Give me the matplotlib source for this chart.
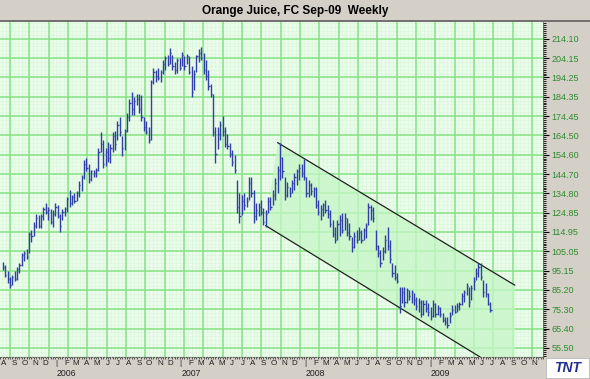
"""
Orange Juice FC Sep-09 weekly bar chart with a falling channel.
"""

import numpy as np
import pandas as pd
import matplotlib
matplotlib.use('Agg')
import matplotlib.pyplot as plt
import matplotlib.dates as mdates
from matplotlib.collections import LineCollection
from matplotlib.patches import Polygon, Rectangle
from matplotlib.ticker import FixedLocator

# Weekly bars (Fridays), first bar end of July 2005
first_week = '2005-07-29'

highs = [
    99.5, 98, 95, 92, 93, 95, 97, 99, 104, 105,
    106, 115, 116, 120, 124, 123.5, 124, 128, 130, 128,
    127, 126, 130, 129, 124, 127, 128, 133, 136.5, 134,
    135, 136, 141, 144, 152, 153, 150, 147, 147, 148,
    158, 166, 162, 158, 161, 160, 166, 167, 172, 174,
    164, 168, 176, 183, 187, 184, 186, 186, 185, 174,
    172, 169, 193, 199, 198, 199, 198, 203, 205, 206,
    209.5, 206, 202, 204, 204, 207.5, 205, 206.5, 205, 200,
    198, 206, 209, 210, 207, 203, 198, 191, 186, 169,
    169, 172, 174.5, 169, 165, 160.5, 157, 154.5, 141.5, 135,
    134, 135, 133, 143, 143, 136.5, 130, 130, 131.5, 127.5,
    126, 133, 133, 136.5, 142.5, 149, 160.5, 153.5, 143, 140.5,
    138, 141.5, 145, 147.5, 150, 150, 152.3, 143, 141.5, 140,
    138, 138, 131.5, 129, 130, 131.5, 129, 126, 121, 117.5,
    121, 123.5, 124.5, 124.5, 122, 119.5, 112.5, 115, 116, 117.5,
    116, 117, 119.5, 130, 129, 128, 116, 108.3, 105.7, 107,
    113.5, 117.5, 110.8, 99, 98, 93.8, 86.7, 86.7, 86.7, 86,
    85.2, 85.2, 83.6, 81.7, 81, 80, 80, 80, 78.5, 76.5,
    80, 78.5, 77.4, 76.5, 73.3, 71.3, 71.3, 74, 77.4, 77.4,
    78.5, 79, 83.6, 85.2, 88.7, 86.7, 87.7, 92, 96.4, 99,
    99, 90.3, 88.7, 83.6, 79,
]

lows = [
    95.5, 92, 89, 86, 87.5, 90, 90.5, 94, 97.5, 100,
    101, 104, 110, 113, 117, 117, 117, 121, 124, 121,
    119, 117.5, 123, 122, 115, 121, 123, 125, 128, 129,
    130, 131, 133, 136, 142, 146, 140, 141, 143, 143,
    146, 156, 148, 149, 151, 150.5, 156, 157, 162, 164,
    154, 157, 166, 172, 175, 175, 180, 176, 172, 167,
    165, 160.5, 162, 191, 192, 193, 192, 196, 198, 200,
    201, 198, 196, 196.5, 198, 200, 198, 201, 196, 184,
    188, 197, 202, 203, 196, 193, 188, 184, 164, 150.5,
    157.5, 162, 164, 158.5, 157.5, 153.5, 149, 145, 124.5, 119.5,
    123.5, 126, 128, 131.5, 133, 119.5, 121, 123, 123.5, 118.5,
    117.5, 124.5, 126, 129, 131.5, 135, 141.5, 142.5, 131.5, 133,
    133, 135, 136.5, 139, 141.5, 143, 141.5, 133, 133, 134,
    133, 127.5, 123.5, 121, 123, 124.5, 122, 117.5, 112.5, 109.3,
    110.8, 113, 114.5, 116, 113, 110.8, 104.7, 106.7, 109.3, 110.8,
    109.3, 110.8, 111.8, 118.5, 121, 120, 105.7, 102, 97, 100.6,
    104, 105.7, 99, 91.9, 90.3, 88.7, 73.3, 78.5, 76.5, 78.5,
    80, 78.5, 77.4, 74.9, 74, 71.3, 72.5, 74, 71.8, 69.8,
    71.3, 71.3, 72.3, 71.3, 68.7, 67, 65.6, 68.2, 72.3, 73.3,
    74, 74.9, 77.4, 79, 82.6, 76.5, 80, 85.2, 90.3, 91.9,
    90.3, 81.7, 81.7, 77.4, 74,
]

closes = [
    97, 93, 91, 88, 92, 91, 96, 98, 103, 104,
    102, 114, 113, 118, 122, 118, 123, 127, 125, 126,
    120, 124, 128, 123, 118, 125, 127, 132, 130, 133,
    131, 135, 139, 143, 150, 148, 142, 146, 145, 147,
    156, 160, 150, 156, 153, 158, 164, 160, 170, 166,
    158, 167, 174, 181, 178, 182, 183, 178, 174, 169,
    166, 162, 192, 197, 195, 194, 197, 201, 204, 201,
    207, 200, 198, 203, 199, 206, 200, 205, 197, 187,
    196, 205, 207, 204, 198, 195, 190, 186, 166, 155,
    165, 170, 167, 160, 159, 155, 151, 147, 128, 123,
    131, 129, 131, 140, 135, 123, 126, 128, 125, 120,
    124, 131, 128, 134, 140, 147, 153, 146, 134, 138,
    135, 140, 143, 146, 148, 145, 143, 135, 139, 136,
    137, 129, 125, 127, 129, 126, 124, 119, 114, 111,
    119, 121, 116, 122, 115, 113, 107, 113, 111, 115,
    111, 116, 118, 128, 126, 122, 108, 104, 99, 105,
    111, 108, 101, 94, 92, 90, 77, 84, 79, 85,
    82, 84, 80, 77, 79, 73, 78, 76, 74, 72,
    78, 73, 76, 73, 70, 69, 67, 72, 75, 74,
    77, 78, 82, 84, 87, 79, 86, 90, 94, 97,
    92, 84, 83, 78, 75,
]

# Price scale labels on the right
price_ticks = [214.10, 204.15, 194.25, 184.35, 174.45, 164.50, 154.60, 144.70,
               134.80, 124.85, 114.95, 105.05, 95.15, 85.20, 75.30, 65.40, 55.50]

# Down channel drawn on the chart
upper_dates = ['2007-10-12', '2009-09-05']
upper_prices = [160.8, 87.7]
lower_dates = ['2007-09-07', '2009-05-26']
lower_prices = [118.2, 50.9]

years = [2006, 2007, 2008, 2009]
month_letters = ['|', 'F', 'M', 'A', 'M', 'J', 'J', 'A', 'S', 'O', 'N', 'D']

title = 'Orange Juice, FC Sep-09  Weekly'

# ---------------------------------------------------------------
BG = '#d4d0c8'
PLOT_BG = '#eafcea'
MAJOR = '#84e284'
MINOR = '#dcf6dc'
FILL = '#c6f6c6'
BAR = '#3040a8'
LABEL_GREEN = '#2e8b2e'

dates = pd.date_range(first_week, periods=len(highs), freq='7D')
xd = mdates.date2num(dates)

fig = plt.figure(figsize=(5.9, 3.79), dpi=100, facecolor=BG)
ax = fig.add_axes([0, 22 / 379, 543 / 590, 335 / 379])
ax.set_facecolor(PLOT_BG)

x0 = mdates.date2num(pd.Timestamp('2005-07-21'))
x1 = mdates.date2num(pd.Timestamp('2009-11-27'))
ax.set_xlim(x0, x1)
ax.set_ylim(50.8, 222.7)

# square background grid (pixel based, like the source chart)
px_day = (x1 - x0) / 543.0
step = 19.33
for k in range(-1, 30):
    xv = x0 + (10 + k * step) * px_day
    for j in range(1, 5):
        ax.axvline(xv + j * step / 5 * px_day, color=MINOR, lw=0.5, zorder=0)
    ax.axvline(xv, color=MAJOR, lw=1.1, zorder=0.5)
tick_step = (price_ticks[0] - price_ticks[-1]) / (len(price_ticks) - 1)
for k in range(-2, len(price_ticks) + 2):
    yv = price_ticks[-1] + k * tick_step
    for j in range(1, 5):
        ax.axhline(yv + j * tick_step / 5, color=MINOR, lw=0.5, zorder=0)
    ax.axhline(yv, color=MAJOR, lw=1.1, zorder=0.5)

# channel shading and lines
ux = mdates.date2num(pd.to_datetime(upper_dates))
lx = mdates.date2num(pd.to_datetime(lower_dates))
poly = Polygon([(ux[0], upper_prices[0]), (ux[1], upper_prices[1]),
                (ux[1], 50.8), (lx[1], lower_prices[1]),
                (lx[0], lower_prices[0])],
               closed=True, facecolor=FILL, edgecolor='none', alpha=0.75, zorder=0.8)
ax.add_patch(poly)
ax.plot(ux, upper_prices, color='#202020', lw=0.9, zorder=2)
ax.plot(lx, lower_prices, color='#202020', lw=0.9, zorder=2)

# HLC bars
hl = [[(x, l), (x, h)] for x, h, l in zip(xd, highs, lows)]
cl = [[(x, c), (x + 3.5, c)] for x, c in zip(xd, closes)]
ax.add_collection(LineCollection(hl, colors=BAR, linewidths=1.0, zorder=3))
ax.add_collection(LineCollection(cl, colors=BAR, linewidths=1.0, zorder=3))

# right price axis
ax.yaxis.tick_right()
ax.yaxis.set_major_locator(FixedLocator(price_ticks))
ax.set_yticklabels([f'{p:.2f}' for p in price_ticks])
minor_y = np.arange(price_ticks[-1] - 6 * tick_step, 224, tick_step / 10)
ax.yaxis.set_minor_locator(FixedLocator(minor_y))
ax.tick_params(axis='y', which='major', length=4, width=0.8, pad=2,
               labelsize=6.5, colors='black')
ax.tick_params(axis='y', which='major', labelcolor=LABEL_GREEN)
ax.tick_params(axis='y', which='minor', length=2.5, width=0.6)

# month letters along the bottom
months = pd.date_range('2005-08-01', '2009-11-01', freq='MS')
ax.set_xticks(mdates.date2num(months))
ax.set_xticklabels([month_letters[m.month - 1] for m in months])
ax.tick_params(axis='x', which='major', length=0, pad=2.2, labelsize=5.8, labelcolor='#202020')
weeks = mdates.date2num(pd.date_range('2005-07-22', '2009-11-27', freq='7D'))
ax.xaxis.set_minor_locator(FixedLocator(weeks))
ax.tick_params(axis='x', which='minor', length=1.3, width=0.6, color='#404040')
for lab in ax.get_xticklabels() + ax.get_yticklabels():
    lab.set_family('Liberation Sans')

for yr in years:
    xv = mdates.date2num(pd.Timestamp(f'{yr}-01-01'))
    ax.text(xv + 2, -0.037, str(yr), transform=ax.get_xaxis_transform(),
            ha='left', va='top', fontsize=6.3, color='#202020', family='Liberation Sans')

for side in ['top', 'left']:
    ax.spines[side].set_visible(False)
ax.spines['bottom'].set_color('#606060')
ax.spines['bottom'].set_linestyle(':')
ax.spines['right'].set_color('#606060')
ax.spines['right'].set_linewidth(0.6)

# title bar
fig.patches.append(Rectangle((0, 1 - 21 / 379), 1, 21 / 379, transform=fig.transFigure,
                             facecolor=BG, edgecolor='none'))
fig.lines.append(plt.Line2D([0, 1], [1 - 21 / 379, 1 - 21 / 379], transform=fig.transFigure,
                            color='#606060', lw=1.2))
fig.text(0.5, 1 - 11 / 379, title, ha='center', va='center', fontsize=8.5,
         fontweight='bold', family=['Liberation Sans Narrow', 'Liberation Sans'])

# logo box bottom right
fig.patches.append(Rectangle((546 / 590, 1 / 379), 43 / 590, 20 / 379, transform=fig.transFigure,
                             facecolor='white', edgecolor='#b0b0b0', lw=0.5))
fig.text(568 / 590, 11 / 379, 'TNT', ha='center', va='center', fontsize=10,
         fontweight='bold', style='italic', color='#1f2f8f', family='Liberation Sans')

plt.savefig('out.png', dpi=100, facecolor=BG)
plt.close()
